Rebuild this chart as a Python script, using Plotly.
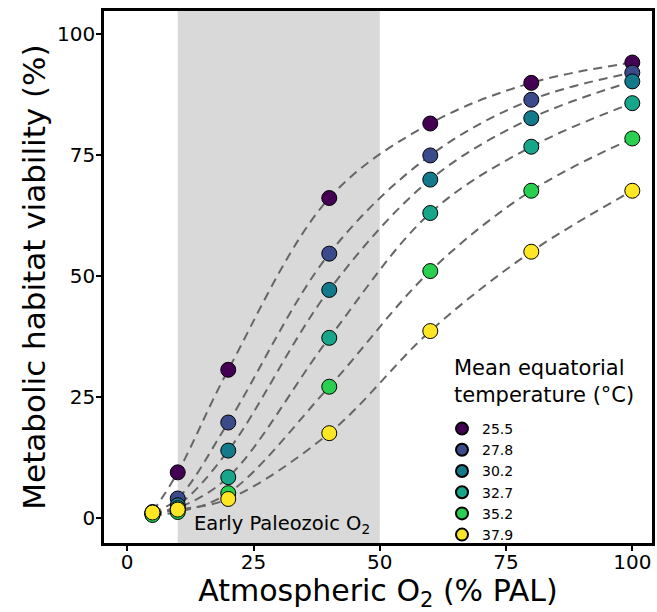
import plotly.graph_objects as go

o2_levels = [5, 10, 20, 40, 60, 80, 100]
temperatures = ["25.5", "27.8", "30.2", "32.7", "35.2", "37.9"]
viab_255 = [1.2, 9.4, 30.6, 66.1, 81.5, 89.9, 94.1]
viab_278 = [1.0, 4.0, 19.7, 54.6, 74.9, 86.4, 92.0]
viab_302 = [0.8, 2.6, 13.9, 47.1, 69.9, 82.6, 90.2]
viab_327 = [0.7, 2.0, 8.4, 37.2, 63.0, 76.7, 85.7]
viab_352 = [0.6, 1.2, 5.1, 27.1, 51.0, 67.6, 78.4]
viab_379 = [1.1, 1.7, 3.9, 17.5, 38.6, 55.0, 67.6]
series = [viab_255, viab_278, viab_302, viab_327, viab_352, viab_379]
colors = ["#440154", "#3B4A8A", "#137A8C", "#17A689", "#28CF50", "#FDE725"]

paleo_start, paleo_end = 10, 50
x_ticks = [0, 25, 50, 75, 100]
y_ticks = [0, 25, 50, 75, 100]

FONT = "DejaVu Sans, Liberation Sans, Arial, sans-serif"

W, H = 657, 612
ML, MR, MT, MB = 104, 5, 11, 69
PW, PH = W - ML - MR, H - MT - MB


def px_x(px):
    return (px - ML) / PW


def px_y(py):
    return (H - MB - py) / PH


fig = go.Figure()

# dashed fitted curves
for vals in series:
    fig.add_trace(go.Scatter(
        x=o2_levels, y=vals, mode="lines",
        line=dict(color="#666666", width=2, dash="9px,6px", shape="spline", smoothing=1.0),
        showlegend=False, hoverinfo="skip"))

# points
for name, vals, col in zip(temperatures, series, colors):
    fig.add_trace(go.Scatter(
        x=o2_levels, y=vals, mode="markers", name=name,
        marker=dict(size=15, color=col, line=dict(color="black", width=1))))

fig.add_vrect(x0=paleo_start, x1=paleo_end, fillcolor="#D9D9D9", opacity=1,
              line_width=0, layer="below")

fig.add_annotation(x=12.9, y=-1.45, xref="x", yref="y",
                   text="Early Paleozoic O<sub>2</sub>", showarrow=False,
                   xanchor="left", yanchor="middle",
                   font=dict(family=FONT, size=19.5, color="black"))

# legend title
fig.add_annotation(x=px_x(452), y=px_y(354), xref="paper", yref="paper",
                   text="Mean equatorial<br>temperature (°C)", showarrow=False,
                   xanchor="left", yanchor="top", align="left",
                   font=dict(family=FONT, size=21, color="black"))

fig.update_layout(
    width=W, height=H,
    margin=dict(l=ML, r=MR, t=MT, b=MB),
    plot_bgcolor="white", paper_bgcolor="white",
    font=dict(family=FONT, color="black"),
    showlegend=True,
    legend=dict(
        font=dict(family=FONT, size=14, color="black"),
        x=px_x(442), y=px_y(413), xanchor="left", yanchor="top",
        bgcolor="rgba(0,0,0,0)", tracegroupgap=0, itemsizing="constant",
    ),
)

fig.update_xaxes(
    range=[-4.6, 103.9], tickvals=x_ticks, ticks="outside", ticklen=5, tickwidth=1.5,
    tickcolor="black", showgrid=False, zeroline=False, automargin=False,
    showline=True, linecolor="black", linewidth=2.5, mirror=True,
    ticklabelstandoff=-6,
    tickfont=dict(family=FONT, size=20, color="black"),
    title=dict(text="Atmospheric O<sub>2</sub> (% PAL)",
               font=dict(family=FONT, size=30, color="black"), standoff=2),
)
fig.update_yaxes(
    range=[-5.2, 104.75], tickvals=y_ticks, ticks="outside", ticklen=5, tickwidth=1.5,
    tickcolor="black", showgrid=False, zeroline=False, automargin=False,
    showline=True, linecolor="black", linewidth=2.5, mirror=True,
    ticklabelstandoff=-3,
    tickfont=dict(family=FONT, size=20, color="black"),
    title=dict(text="Metabolic habitat viability (%)",
               font=dict(family=FONT, size=31, color="black"), standoff=3),
)

fig.write_html("out.html",
               config={"displayModeBar": False},
               post_script="document.body.style.margin='0';document.body.style.overflow='hidden';")
